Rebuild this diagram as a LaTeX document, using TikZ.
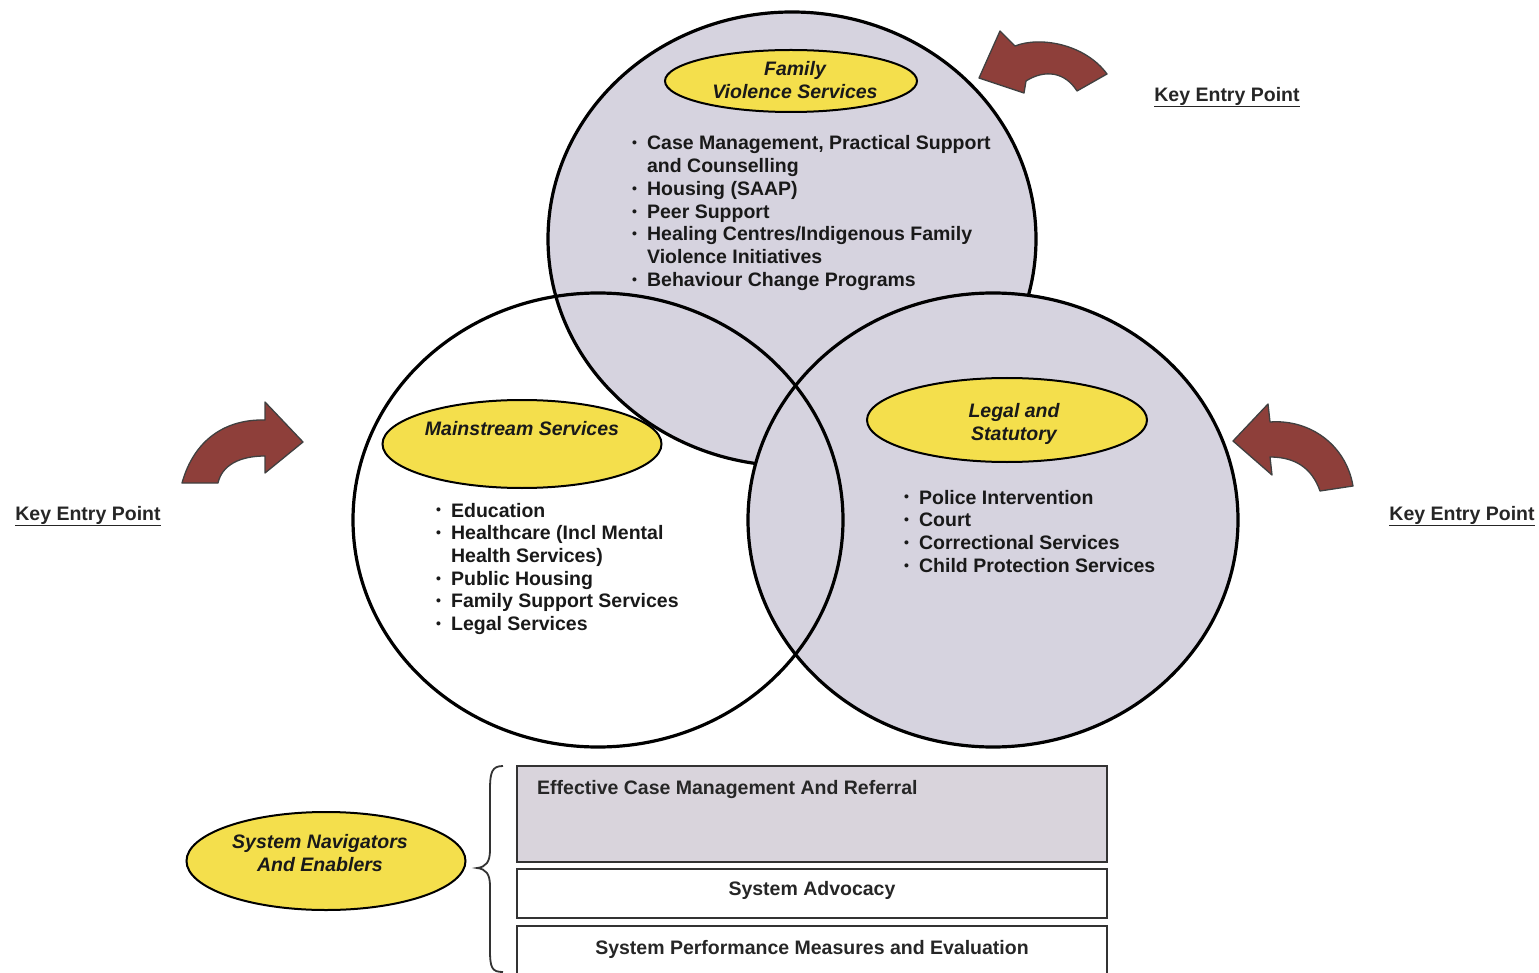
\documentclass[tikz,border=0pt]{standalone}
\usepackage{fontspec}
\setmainfont{Liberation Sans}
\usetikzlibrary{shapes.geometric}
\definecolor{circgrey}{HTML}{D6D3DF}
\definecolor{boxgrey}{HTML}{D9D4DC}
\definecolor{lblyellow}{HTML}{F4DF4C}
\definecolor{arrowred}{HTML}{8E3F3A}
\tikzset{
  circ/.style={line width=3.2pt, draw=black},
  lbl/.style={ellipse, draw=black, line width=2pt, fill=lblyellow, inner sep=0pt},
  lbltext/.style={font=\fontsize{19.5}{22.5}\selectfont\bfseries\itshape, align=center, text=black!90},
  listtext/.style={font=\fontsize{19.5}{22.7}\selectfont\bfseries, anchor=base west, inner sep=0pt, text=black!90},
  keytext/.style={font=\fontsize{19.5}{22.7}\selectfont\bfseries, inner sep=0pt, text=black!85},
  boxtext/.style={font=\fontsize{19.5}{22.7}\selectfont\bfseries, inner sep=0pt, text=black!85},
  bandbox/.style={draw=black!80, line width=2.8pt},
  bentarrow/.style={fill=arrowred, draw=black!75, line width=1.3pt, line join=round},
}
\newcommand{\bul}{\raisebox{0.2ex}{\fontsize{14}{14}\selectfont\textbullet}}
\begin{document}
\begin{tikzpicture}[x=1pt,y=-1pt]
\useasboundingbox (0,0) rectangle (1539,973);

\coordinate (cTop) at (792,239);
\coordinate (cLeft) at (598,520);
\coordinate (cRight) at (993,520);
% circles: left fill, top, right, then left outline on top
\fill[white] (cLeft) ellipse [x radius=245pt, y radius=227pt];
\draw[circ, fill=circgrey] (cTop) ellipse [x radius=244pt, y radius=227pt];
\draw[circ, fill=circgrey] (cRight) ellipse [x radius=245pt, y radius=227pt];
\draw[circ] (cLeft) ellipse [x radius=245pt, y radius=227pt];

% yellow labels
\node[lbl, minimum width=252pt, minimum height=62pt] (fvs) at (791,81) {};
\node[lbltext] (fvst) at (795,80) {Family\\Violence Services};
\node[lbl, minimum width=279pt, minimum height=88pt] (ms) at (522,444) {};
\node[lbltext] (mst) at (522,429) {Mainstream Services};
\node[lbl, minimum width=280pt, minimum height=84pt] (ls) at (1007,420) {};
\node[lbltext] (lst) at (1014,424) {Legal and\\Statutory};
\node[lbl, minimum width=279pt, minimum height=98pt] (sn) at (326,861) {};
\node[lbltext] (snt) at (320,853) {System Navigators\\And Enablers};

% lists
\node[listtext] (fvlist) at (632,150) {\begin{tabular}[t]{@{}l@{\hspace{10pt}}l@{}}
\bul & Case Management, Practical Support\\
 & and Counselling\\
\bul & Housing (SAAP)\\
\bul & Peer Support\\
\bul & Healing Centres/Indigenous Family\\
 & Violence Initiatives\\
\bul & Behaviour Change Programs
\end{tabular}};
\node[listtext] (mslist) at (436,517) {\begin{tabular}[t]{@{}l@{\hspace{10pt}}l@{}}
\bul & Education\\
\bul & Healthcare (Incl Mental\\
 & Health Services)\\
\bul & Public Housing\\
\bul & Family Support Services\\
\bul & Legal Services
\end{tabular}};
\node[listtext] (lslist) at (904,504) {\begin{tabular}[t]{@{}l@{\hspace{10pt}}l@{}}
\bul & Police Intervention\\
\bul & Court\\
\bul & Correctional Services\\
\bul & Child Protection Services
\end{tabular}};

% key entry points
\node[keytext] (k1) at (1227,97) {\underline{Key Entry Point}};
\node[keytext] (k2) at (88,516) {\underline{Key Entry Point}};
\node[keytext] (k3) at (1462,516) {\underline{Key Entry Point}};

% curved block arrows
\draw[bentarrow] (1107,74) .. controls (1085,44) and (1040,36) .. (1015,46)
  -- (1000,31) -- (979,78) -- (1024,93) -- (1026,81)
  .. controls (1045,69) and (1065,72) .. (1077,91) -- cycle;
\draw[bentarrow] (182,483) .. controls (194,440) and (225,419) .. (265,420)
  -- (265,402) -- (303,442) -- (265,473) -- (265,456)
  .. controls (240,456) and (222,465) .. (218,483) -- cycle;
\draw[bentarrow] (1233,441) -- (1268,404) -- (1270,422)
  .. controls (1310,419) and (1346,445) .. (1353,486)
  -- (1320,491) .. controls (1312,468) and (1295,457) .. (1270,457)
  -- (1272,475) -- cycle;

% bottom bands
\draw[bandbox, fill=boxgrey] (517,766) rectangle (1107,862);
\node[boxtext, anchor=base west] (b1) at (537,794) {Effective Case Management And Referral};
\draw[bandbox, fill=white] (517,869) rectangle (1107,918);
\node[boxtext] (b2) at (812,890) {System Advocacy};
\draw[bandbox, fill=white] (517,926) rectangle (1107,985);
\node[boxtext] (b3) at (812,949) {System Performance Measures and Evaluation};

% brace
\draw[line width=1.8pt, black!80] (503,766) .. controls (492,766) and (490,772) .. (490,790)
  -- (490,850) .. controls (490,862) and (486,867) .. (477,868)
  .. controls (486,869) and (490,874) .. (490,886)
  -- (490,950) .. controls (490,968) and (492,972) .. (503,972);
\end{tikzpicture}
\end{document}
